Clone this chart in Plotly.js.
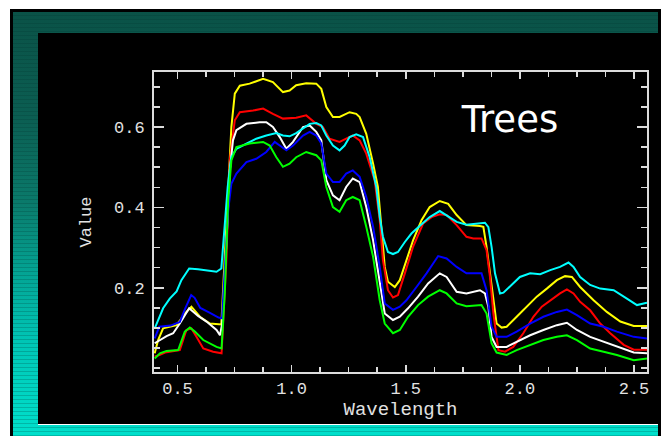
<!DOCTYPE html>
<html>
<head>
<meta charset="utf-8">
<script src="https://cdn.plot.ly/plotly-3.0.1.min.js"></script>
<style>
  html, body { margin: 0; padding: 0; background: #ffffff; width: 666px; height: 436px; overflow: hidden; }
  .abs { position: absolute; }
  #border { left: 10px; top: 9px; width: 651px; height: 427px; background: #000; }
  #teal { left: 13px; top: 12px; width: 645px; height: 424px;
    background:
      repeating-linear-gradient(to bottom, rgba(0,0,0,0) 0px, rgba(0,0,0,0) 3px, rgba(0,50,45,0.22) 3px, rgba(0,50,45,0.22) 4px),
      linear-gradient(to bottom, #0a5247 0%, #0b5e52 25%, #0a7a6b 45%, #03a595 62%, #00c6b6 78%, #00e0cc 100%); }
  #inner { left: 38px; top: 33px; width: 620px; height: 391px; background: #000; }
  #wline { left: 38px; top: 424px; width: 620px; height: 1px; background: #ffffff; }
  #chart { left: 0; top: 0; width: 666px; height: 436px; }
</style>
</head>
<body>
<div id="border" class="abs"></div>
<div id="teal" class="abs"></div>
<div id="inner" class="abs"></div>
<div id="wline" class="abs"></div>
<div id="chart" class="abs"></div>
<script>
// ---- data (wavelength in micrometres, reflectance value) ----
const xYellow = [0.40,0.415,0.437,0.496,0.532,0.561,0.598,0.642,0.692,0.714,0.736,0.751,0.773,0.816,0.875,0.918,0.962,0.991,1.02,1.064,1.108,1.13,1.152,1.181,1.21,1.254,1.283,1.298,1.327,1.357,1.378,1.393,1.408,1.422,1.452,1.474,1.503,1.532,1.569,1.605,1.649,1.686,1.723,1.766,1.825,1.84,1.854,1.869,1.884,1.898,1.92,1.942,1.986,2.03,2.074,2.118,2.162,2.198,2.228,2.264,2.323,2.381,2.44,2.499,2.557];
const yYellow = [0.037,0.070,0.099,0.107,0.136,0.153,0.128,0.111,0.109,0.351,0.600,0.683,0.703,0.708,0.720,0.712,0.687,0.691,0.704,0.709,0.708,0.695,0.650,0.625,0.625,0.637,0.633,0.625,0.583,0.509,0.451,0.352,0.252,0.215,0.202,0.219,0.269,0.318,0.368,0.401,0.416,0.409,0.381,0.356,0.354,0.352,0.302,0.236,0.169,0.111,0.101,0.103,0.128,0.153,0.178,0.198,0.219,0.229,0.227,0.202,0.169,0.140,0.116,0.105,0.105];

const xRed = [0.40,0.423,0.445,0.51,0.539,0.561,0.583,0.613,0.656,0.693,0.714,0.729,0.751,0.773,0.831,0.875,0.918,0.962,1.02,1.064,1.108,1.137,1.166,1.21,1.239,1.268,1.298,1.327,1.364,1.386,1.40,1.422,1.444,1.466,1.496,1.532,1.576,1.613,1.649,1.679,1.723,1.766,1.796,1.832,1.854,1.869,1.884,1.906,1.935,1.971,2.015,2.059,2.096,2.133,2.176,2.206,2.235,2.264,2.308,2.352,2.396,2.455,2.499,2.557];
const yRed = [0.029,0.033,0.039,0.045,0.095,0.099,0.078,0.049,0.041,0.037,0.269,0.517,0.617,0.637,0.641,0.646,0.633,0.621,0.623,0.629,0.608,0.600,0.571,0.563,0.571,0.579,0.567,0.534,0.467,0.368,0.269,0.194,0.176,0.182,0.236,0.302,0.360,0.376,0.383,0.381,0.356,0.327,0.323,0.323,0.294,0.227,0.136,0.045,0.041,0.053,0.087,0.128,0.153,0.169,0.186,0.196,0.186,0.165,0.144,0.111,0.087,0.058,0.046,0.046];

const xWhite = [0.40,0.452,0.481,0.51,0.551,0.59,0.627,0.671,0.686,0.696,0.714,0.729,0.743,0.758,0.802,0.86,0.889,0.918,0.948,0.977,1.006,1.05,1.079,1.108,1.13,1.152,1.181,1.21,1.239,1.268,1.298,1.327,1.357,1.386,1.408,1.444,1.474,1.51,1.554,1.598,1.649,1.679,1.723,1.766,1.825,1.847,1.862,1.876,1.898,1.942,1.986,2.045,2.103,2.162,2.206,2.25,2.308,2.367,2.425,2.499,2.557];
const yWhite = [0.062,0.080,0.087,0.111,0.149,0.130,0.116,0.095,0.082,0.111,0.310,0.492,0.567,0.592,0.608,0.612,0.612,0.600,0.575,0.546,0.563,0.600,0.604,0.588,0.567,0.468,0.430,0.418,0.451,0.472,0.463,0.401,0.318,0.219,0.136,0.120,0.128,0.149,0.178,0.211,0.236,0.227,0.190,0.186,0.194,0.186,0.153,0.078,0.053,0.053,0.066,0.082,0.095,0.107,0.113,0.095,0.078,0.066,0.053,0.039,0.037];

const xCyan = [0.40,0.437,0.466,0.496,0.517,0.551,0.59,0.627,0.671,0.692,0.707,0.72,0.736,0.758,0.802,0.845,0.889,0.933,0.962,0.991,1.02,1.05,1.079,1.108,1.13,1.152,1.181,1.21,1.232,1.254,1.283,1.313,1.342,1.371,1.386,1.40,1.422,1.444,1.466,1.496,1.525,1.561,1.605,1.649,1.679,1.723,1.766,1.81,1.847,1.862,1.876,1.891,1.913,1.928,1.964,2.0,2.045,2.089,2.133,2.176,2.213,2.235,2.264,2.308,2.352,2.411,2.469,2.513,2.557];
const yCyan = [0.099,0.149,0.173,0.191,0.219,0.248,0.246,0.244,0.240,0.248,0.351,0.451,0.525,0.546,0.559,0.571,0.579,0.585,0.579,0.577,0.585,0.596,0.608,0.610,0.604,0.579,0.554,0.542,0.554,0.575,0.582,0.575,0.525,0.451,0.376,0.327,0.289,0.284,0.289,0.314,0.335,0.354,0.376,0.391,0.380,0.364,0.357,0.360,0.362,0.351,0.302,0.236,0.186,0.188,0.207,0.227,0.236,0.234,0.244,0.252,0.263,0.252,0.227,0.207,0.198,0.194,0.173,0.157,0.163];

const xBlue = [0.40,0.42,0.47,0.51,0.535,0.56,0.575,0.60,0.64,0.68,0.695,0.707,0.722,0.736,0.758,0.802,0.845,0.889,0.926,0.948,0.977,1.006,1.05,1.079,1.108,1.13,1.152,1.181,1.21,1.239,1.268,1.298,1.327,1.357,1.386,1.408,1.444,1.474,1.503,1.547,1.591,1.642,1.679,1.723,1.766,1.832,1.854,1.876,1.898,1.942,1.986,2.045,2.103,2.162,2.206,2.25,2.308,2.367,2.425,2.499,2.557];
const yBlue = [0.074,0.103,0.106,0.115,0.150,0.182,0.175,0.150,0.138,0.126,0.124,0.252,0.393,0.459,0.484,0.513,0.521,0.538,0.563,0.554,0.542,0.554,0.579,0.588,0.579,0.559,0.484,0.463,0.463,0.484,0.492,0.476,0.426,0.352,0.252,0.161,0.145,0.153,0.169,0.202,0.236,0.279,0.273,0.252,0.236,0.236,0.194,0.103,0.078,0.078,0.091,0.111,0.128,0.140,0.146,0.132,0.111,0.103,0.091,0.078,0.074];

const xGreen = [0.40,0.423,0.452,0.503,0.532,0.554,0.576,0.613,0.671,0.693,0.707,0.722,0.736,0.758,0.816,0.875,0.904,0.933,0.962,0.991,1.02,1.064,1.108,1.13,1.152,1.181,1.21,1.239,1.268,1.298,1.327,1.357,1.386,1.408,1.444,1.474,1.51,1.554,1.598,1.649,1.679,1.723,1.766,1.832,1.854,1.876,1.898,1.942,1.986,2.045,2.103,2.162,2.206,2.25,2.308,2.367,2.425,2.499,2.557];
const yGreen = [0.024,0.037,0.043,0.045,0.091,0.101,0.091,0.070,0.053,0.049,0.186,0.418,0.517,0.550,0.559,0.563,0.554,0.525,0.501,0.509,0.525,0.538,0.530,0.517,0.451,0.401,0.389,0.418,0.426,0.418,0.352,0.277,0.169,0.111,0.087,0.095,0.128,0.157,0.178,0.194,0.186,0.161,0.154,0.157,0.136,0.062,0.039,0.033,0.045,0.058,0.070,0.078,0.082,0.070,0.049,0.041,0.033,0.020,0.024];

const xTickVals = [0.5, 1.0, 1.5, 2.0, 2.5];
const yTickVals = [0.2, 0.4, 0.6];
const chartTitle = 'Trees';
const xTitle = 'Wavelength';
const yTitle = 'Value';

// ---- drawing ----
const series = [
  {x: xYellow, y: yYellow, color: '#ffff00', name: 'Tree 1'},
  {x: xRed,    y: yRed,    color: '#ff0000', name: 'Tree 2'},
  {x: xWhite,  y: yWhite,  color: '#ffffff', name: 'Tree 3'},
  {x: xCyan,   y: yCyan,   color: '#00ffff', name: 'Tree 4'},
  {x: xBlue,   y: yBlue,   color: '#0000ff', name: 'Tree 5'},
  {x: xGreen,  y: yGreen,  color: '#00ff00', name: 'Tree 6'}
];
const traces = series.map(s => ({
  type: 'scatter', mode: 'lines', x: s.x, y: s.y, name: s.name,
  line: {color: s.color, width: 2, shape: 'linear'}, hoverinfo: 'skip'
}));

const axisColor = '#dcdcdc';
const tickFont = {family: 'Liberation Mono, DejaVu Sans Mono, monospace', size: 17, color: '#e2e2e2'};
const xTitleFont = {family: 'Liberation Mono, DejaVu Sans Mono, monospace', size: 19, color: '#e2e2e2'};

const layout = {
  width: 666, height: 436,
  paper_bgcolor: 'rgba(0,0,0,0)', plot_bgcolor: 'rgba(0,0,0,0)',
  margin: {l: 154, r: 19, t: 72, b: 64, pad: 0},
  showlegend: false,
  title: {text: chartTitle, x: 510/666, y: 1 - 119/436, xref: 'container', yref: 'container',
          xanchor: 'center', yanchor: 'middle',
          font: {family: 'DejaVu Sans, sans-serif', size: 37, color: '#ffffff', weight: 500}},
  xaxis: {
    range: [0.397, 2.557], tickmode: 'array', tickvals: xTickVals, tickformat: '.1f',
    showline: true, linecolor: axisColor, linewidth: 2, mirror: 'allticks',
    ticks: 'inside', ticklen: 7, tickwidth: 1.5, tickcolor: axisColor,
    minor: {tickmode: 'linear', tick0: 0, dtick: 0.125, ticks: 'inside', ticklen: 5, tickwidth: 1.5, tickcolor: axisColor, showgrid: false},
    showgrid: false, zeroline: false, tickfont: tickFont, automargin: false,
    title: {text: xTitle, font: xTitleFont, standoff: 2}
  },
  yaxis: {
    range: [-0.0095, 0.737], tickmode: 'array', tickvals: yTickVals, tickformat: '.1f',
    showline: true, linecolor: axisColor, linewidth: 2, mirror: 'allticks',
    ticks: 'inside', ticklen: 10, tickwidth: 1.5, tickcolor: axisColor,
    minor: {tickmode: 'linear', tick0: 0, dtick: 0.05, ticks: 'inside', ticklen: 6, tickwidth: 1.5, tickcolor: axisColor, showgrid: false},
    showgrid: false, zeroline: false, tickfont: tickFont, automargin: false,
    ticklabelstandoff: 4,
    title: {text: yTitle, font: tickFont, standoff: 18}
  }
};

Plotly.newPlot('chart', traces, layout, {staticPlot: true, displayModeBar: false});
</script>
</body>
</html>
